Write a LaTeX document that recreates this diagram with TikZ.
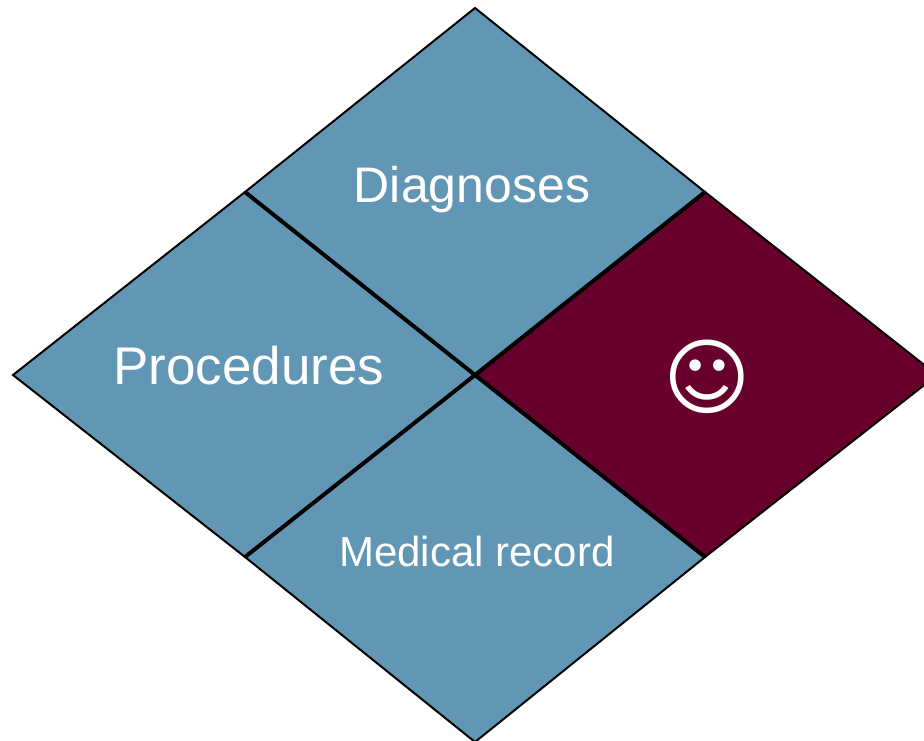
\documentclass[tikz,border=0pt]{standalone}
\usepackage{fontspec}
\setmainfont{Liberation Sans}
\newfontfamily\symfont{DejaVu Sans}
\definecolor{tileblue}{RGB}{97,151,181}
\definecolor{tilemaroon}{RGB}{103,0,44}
\begin{document}
\begin{tikzpicture}[x=1pt,y=-1pt,
  tile/.style={draw=black,line width=2pt,line join=miter},
  inner/.style={draw=black,line width=4pt,line cap=butt},
  lbl/.style={text=white,inner sep=0pt,anchor=center}]
\useasboundingbox (0,0) rectangle (924,740);
\clip (0,0) rectangle (924,740);
\coordinate (T) at (475,8);
\coordinate (L) at (13,375);
\coordinate (R) at (937,375);
\coordinate (B) at (475,742);
\coordinate (C) at (475,375);
\coordinate (TL) at (245,192);
\coordinate (TR) at (705,192);
\coordinate (BL) at (245,557);
\coordinate (BR) at (705,557);
\fill[tileblue] (T) -- (TR) -- (C) -- (TL) -- cycle;
\fill[tileblue] (TL) -- (C) -- (BL) -- (L) -- cycle;
\fill[tileblue] (C) -- (BR) -- (B) -- (BL) -- cycle;
\fill[tilemaroon] (TR) -- (R) -- (BR) -- (C) -- cycle;
\draw[tile] (T) -- (TR) -- (C) -- (TL) -- cycle;
\draw[tile] (TL) -- (C) -- (BL) -- (L) -- cycle;
\draw[tile] (C) -- (BR) -- (B) -- (BL) -- cycle;
\draw[tile] (TR) -- (R) -- (BR) -- (C) -- cycle;
\draw[inner] (TL) -- (C) -- (BR);
\draw[inner] (TR) -- (C) -- (BL);
\node[lbl,font=\fontsize{50}{56}\selectfont] (diag) at (472,190) {Diagnoses};
\node[lbl,font=\fontsize{53}{58}\selectfont] (proc) at (249,366) {Procedures};
\node[lbl,font=\fontsize{42}{48}\selectfont] (med) at (477,551) {Medical record};
\node[lbl,font=\symfont\fontsize{84}{90}\selectfont] (smile) at (707,377) {☺};
\end{tikzpicture}
\end{document}
